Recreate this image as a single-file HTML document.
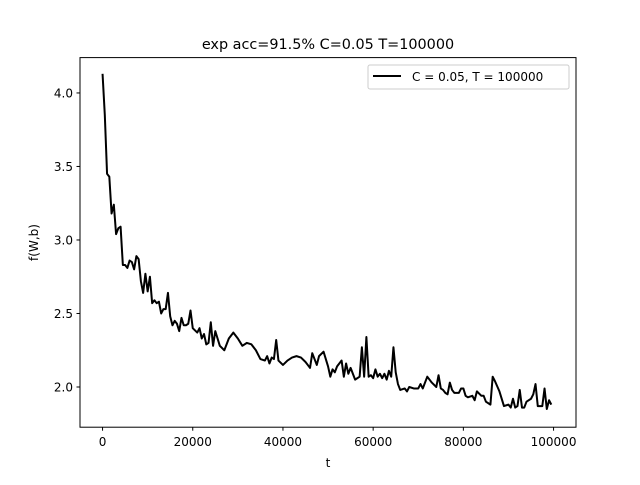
<!DOCTYPE html>
<html><head><meta charset="utf-8"><style>
body{margin:0;background:#fff}
svg text{font-family:"DejaVu Sans","Liberation Sans",sans-serif;fill:#000}
</style></head><body>
<svg id="chart" width="640" height="480" viewBox="0 0 640 480">
<rect width="640" height="480" fill="#fff"/>
<text x="328" y="49" font-size="14.4" text-anchor="middle">exp acc=91.5% C=0.05 T=100000</text>
<g id="xt"></g>
<g id="yt"></g>
<text x="328" y="467" font-size="12" text-anchor="middle">t</text>
<text transform="translate(38,242.5) rotate(-90)" font-size="12" text-anchor="middle">f(W,b)</text>
<path id="line" fill="none" stroke="#000" stroke-width="2" stroke-linejoin="round"/>
<rect x="80" y="57.6" width="496" height="369.6" fill="none" stroke="#000" stroke-width="1"/>
<g>
<rect x="368" y="65" width="201" height="24" rx="2" fill="#fff" stroke="#ccc"/>
<line x1="373" y1="76" x2="401" y2="76" stroke="#000" stroke-width="2"/>
<text x="412" y="81" font-size="12">C = 0.05, T = 100000</text>
</g>
</svg>
<script>
const tVals=[0,500,1000,1500,2000,2500,3000,3500,4000,4500,5000,5500,6000,6500,7000,7500,8000,8500,9000,9500,10000,10500,11000,11500,12000,12500,13000,13500,14000,14500,15000,15500,16000,16500,17000,17500,18000,18500,19000,19500,20000,21000,21500,22000,22500,23000,23500,24000,24500,25000,26000,27000,28000,29000,30000,31000,32000,33000,34000,35000,36000,36500,37000,37500,38000,38500,39000,40000,41000,42000,43000,44000,45000,45500,46000,46500,47000,47500,48000,49000,50000,50500,51000,51500,52000,53000,53500,54000,54500,55000,56000,57000,57500,58000,58500,59000,59500,60000,60500,61000,61500,62000,62500,63000,63500,64000,64500,65000,65500,66000,67000,67500,68000,69000,70000,70500,71000,72000,73000,74000,74500,75000,75500,76000,76500,77000,77500,78000,79000,79500,80000,80500,81000,82000,82500,83000,84000,84500,85000,86000,86500,87000,88000,89000,90000,90500,91000,91500,92000,92500,93000,93500,94000,95000,95500,96000,96500,97000,97500,98000,98500,99000,99500];
const fVals=[4.13,3.85,3.45,3.43,3.18,3.24,3.04,3.08,3.09,2.83,2.83,2.81,2.86,2.85,2.80,2.89,2.87,2.72,2.64,2.77,2.65,2.75,2.57,2.59,2.57,2.58,2.50,2.53,2.53,2.64,2.48,2.42,2.45,2.43,2.38,2.47,2.42,2.42,2.43,2.52,2.40,2.37,2.40,2.33,2.36,2.29,2.30,2.44,2.28,2.38,2.28,2.25,2.33,2.37,2.33,2.28,2.30,2.29,2.25,2.19,2.18,2.21,2.16,2.20,2.19,2.32,2.18,2.15,2.18,2.20,2.21,2.20,2.17,2.15,2.13,2.23,2.19,2.15,2.21,2.24,2.14,2.07,2.12,2.10,2.14,2.18,2.07,2.16,2.09,2.13,2.05,2.07,2.27,2.07,2.34,2.07,2.08,2.06,2.12,2.07,2.09,2.06,2.09,2.05,2.11,2.07,2.27,2.10,2.02,1.98,1.99,1.97,2.00,1.99,1.99,2.02,1.99,2.07,2.03,2.00,2.08,1.99,1.98,1.96,1.95,2.03,1.98,1.96,1.96,1.99,1.99,1.94,1.93,1.94,1.91,1.97,1.94,1.94,1.90,1.88,2.07,2.04,1.97,1.87,1.88,1.86,1.92,1.86,1.87,1.98,1.86,1.86,1.90,1.92,1.95,2.02,1.87,1.87,1.87,1.99,1.85,1.91,1.88];
const xTicks=[0,20000,40000,60000,80000,100000];
const yTicks=[2.0,2.5,3.0,3.5,4.0];
const X0=-5000,X1=104975,Y0=1.7265,Y1=4.2405;
const sx=v=>80+(v-X0)/(X1-X0)*496;
const sy=v=>427.2-(v-Y0)/(Y1-Y0)*369.6;
const NS='http://www.w3.org/2000/svg';
const xt=document.getElementById('xt'),yt=document.getElementById('yt');
xTicks.forEach(v=>{
  const l=document.createElementNS(NS,'line');
  l.setAttribute('x1',sx(v));l.setAttribute('x2',sx(v));l.setAttribute('y1',427.2);l.setAttribute('y2',430.7);l.setAttribute('stroke','#000');
  
  
  xt.appendChild(l);
  const t=document.createElementNS(NS,'text');
  t.setAttribute('x',sx(v));t.setAttribute('y',446);t.setAttribute('font-size','12');t.setAttribute('text-anchor','middle');
  t.textContent=String(v);
  
  
  xt.appendChild(t);
});
yTicks.forEach(v=>{
  const l=document.createElementNS(NS,'line');
  l.setAttribute('x1',76.5);l.setAttribute('x2',80);l.setAttribute('y1',sy(v));l.setAttribute('y2',sy(v));l.setAttribute('stroke','#000');
  
  
  yt.appendChild(l);
  const t=document.createElementNS(NS,'text');
  t.setAttribute('x',73);t.setAttribute('y',sy(v)+4.3);t.setAttribute('font-size','12');t.setAttribute('text-anchor','end');
  t.textContent=v.toFixed(1);
  
  
  yt.appendChild(t);
});
document.getElementById('line').setAttribute('d',tVals.map((t,i)=>(i?'L':'M')+sx(t).toFixed(2)+','+sy(fVals[i]).toFixed(2)).join(''));
</script>
</body></html>
